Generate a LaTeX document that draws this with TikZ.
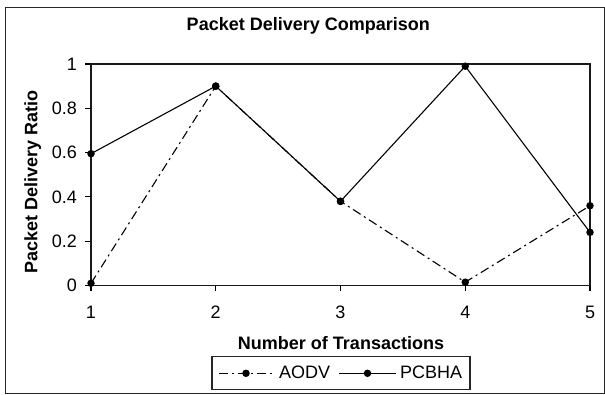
\documentclass[tikz,border=0pt]{standalone}
\usepackage{fontspec}
\setmainfont{Liberation Sans}
\begin{document}
\begin{tikzpicture}[x=1pt,y=1pt,
  lbl/.style={inner sep=0pt, font=\fontsize{18}{21}\selectfont},
  bold lbl/.style={lbl, font=\fontsize{18}{21}\selectfont\bfseries},
  dotmark/.style={circle, fill=black, draw=none, inner sep=0pt, minimum size=7.5pt},
  aodv/.style={line width=1.1pt, dash pattern=on 9pt off 4pt on 2pt off 4pt},
  pcbha/.style={line width=1.1pt},
  plotframe/.style={line width=1.6pt, black!90},
  tickmark/.style={line width=1.1pt}]
\useasboundingbox[fill=white] (0,0) rectangle (605,395);
% outer chart border
\draw[line width=1.2pt, black!85] (5.3,1.7) rectangle (604.5,387.7);
% title
\node[bold lbl, anchor=base] (title) at (308.3,364) {Packet Delivery Comparison};
% axis titles
\node[bold lbl, anchor=base] (xtitle) at (341,45) {Number of Transactions};
\node[bold lbl, anchor=base, rotate=90] (ytitle) at (37.3,213.3) {Packet Delivery Ratio};
% plot area in data coordinates: x = transaction - 1, y = ratio
\begin{scope}[shift={(91pt,109.5pt)}, x=124.75pt, y=221.5pt]
  \coordinate (ll) at (0,0);
  \coordinate (ur) at (4,1);
  % y ticks and labels
  \foreach \v/\t/\n in {0/0/0, 0.2/0.2/1, 0.4/0.4/2, 0.6/0.6/3, 0.8/0.8/4, 1/1/5} {
    \coordinate (yt\n) at (0,\v);
    \draw[tickmark] (yt\n) -- ++(-6pt,0);
    \node[lbl, anchor=east] (yl\n) at ([xshift=-14pt]yt\n) {\t};
  }
  % x ticks and labels
  \foreach \i in {1,...,5} {
    \coordinate (xt\i) at (\i-1,0);
    \draw[tickmark] (xt\i) -- ++(0,-6pt);
    \node[lbl, anchor=base] (xl\i) at ([yshift=-32.8pt]xt\i) {\i};
  }
  \draw[plotframe] (ll) rectangle (ur);
  % AODV series
  \node[dotmark] (a1) at (0,0.01) {};
  \node[dotmark] (a2) at (1,0.90) {};
  \node[dotmark] (a3) at (2,0.38) {};
  \node[dotmark] (a4) at (3,0.015) {};
  \node[dotmark] (a5) at (4,0.36) {};
  \draw[aodv] (a1.center) -- (a2.center) -- (a3.center) -- (a4.center) -- (a5.center);
  % PCBHA series
  \node[dotmark] (p1) at (0,0.595) {};
  \node[dotmark] (p2) at (1,0.90) {};
  \node[dotmark] (p3) at (2,0.38) {};
  \node[dotmark] (p4) at (3,0.99) {};
  \node[dotmark] (p5) at (4,0.24) {};
  \draw[pcbha] (p1.center) -- (p2.center) -- (p3.center) -- (p4.center) -- (p5.center);
\end{scope}
% legend
\node[draw=black!85, line width=1.1pt, minimum width=258pt, minimum height=32.6pt, inner sep=0pt] (legend) at (341,22) {};
\coordinate (la1) at (219,21.7);
\coordinate (la2) at (273,21.7);
\draw[aodv] (la1) -- (la2);
\node[dotmark] (lam) at (246,21.7) {};
\node[lbl, anchor=base west] (lat) at (279,16.7) {AODV};
\coordinate (lp1) at (339,21.7);
\coordinate (lp2) at (396,21.7);
\draw[pcbha] (lp1) -- (lp2);
\node[dotmark] (lpm) at (367.5,21.7) {};
\node[lbl, anchor=base west] (lpt) at (400,16.7) {PCBHA};
\end{tikzpicture}
\end{document}
